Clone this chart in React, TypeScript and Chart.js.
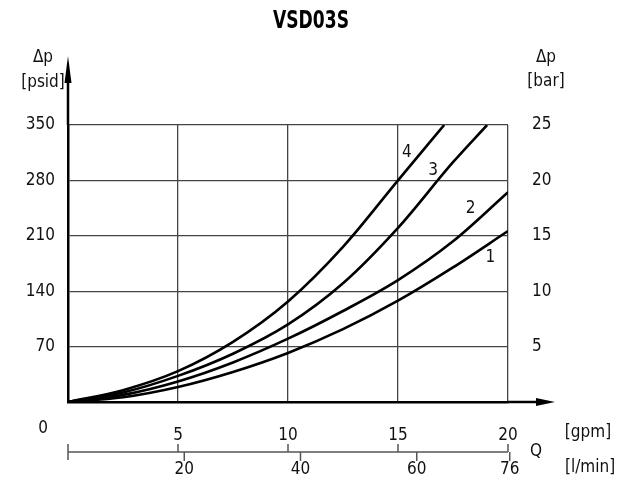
import React, { useEffect, useRef } from "react";
import { Chart, registerables } from "chart.js";
Chart.register(...registerables);

const TITLE = "VSD03S";
const GPM_TICKS = [5, 10, 15, 20];
const LMIN_TICKS = [20, 40, 60, 76];
const PSID_TICKS = [70, 140, 210, 280, 350];
const BAR_TICKS = [5, 10, 15, 20, 25];

const c1x = [0, 2.5, 5, 7.5, 10, 12.5, 15, 17.5, 20];
const c1y = [0, 6, 19, 38, 62, 92, 128, 170, 216];
const c2x = [0, 2.5, 5, 7.5, 10, 12.5, 15, 17.5, 20];
const c2y = [0, 9, 26, 50, 80, 115, 154, 203, 265];
const c3x = [0, 2.5, 5, 7.5, 10, 12.5, 15, 17.5, 19.05];
const c3y = [0, 12, 33, 61, 98, 150, 220, 303, 350];
const c4x = [0, 2.5, 5, 7.5, 10, 12.5, 15, 17.1];
const c4y = [0, 15, 39, 76, 127, 196, 280, 350];

const CURVE_NAMES = ["1", "2", "3", "4"];
const LABEL_X = [19.2, 18.3, 16.6, 15.4];
const LABEL_Y = [183, 245, 292, 315];

const FONT = '"DejaVu Sans Condensed", "DejaVu Sans", sans-serif';

function pts(xs: number[], ys: number[]) {
  return xs.map((x, i) => ({ x, y: ys[i] }));
}

const overlay = {
  id: "overlay",
  afterDraw(chart: any) {
    const ctx = chart.ctx as CanvasRenderingContext2D;
    const xs = chart.scales.x;
    const ys = chart.scales.y;
    const yb = chart.scales.ybar;
    const xl = chart.scales.xl;
    const area = chart.chartArea;
    const x0 = xs.getPixelForValue(0);
    const y0 = ys.getPixelForValue(0);
    ctx.save();
    ctx.fillStyle = "#000";
    ctx.strokeStyle = "#000";
    // y axis arrow
    ctx.lineWidth = 2.5;
    ctx.beginPath();
    ctx.moveTo(x0, area.top);
    ctx.lineTo(x0, area.top - 46);
    ctx.stroke();
    ctx.beginPath();
    ctx.moveTo(x0, area.top - 69);
    ctx.lineTo(x0 - 3.5, area.top - 42);
    ctx.lineTo(x0 + 3.5, area.top - 42);
    ctx.closePath();
    ctx.fill();
    // x axis arrow
    ctx.beginPath();
    ctx.moveTo(area.right, y0);
    ctx.lineTo(area.right + 32, y0);
    ctx.stroke();
    ctx.beginPath();
    ctx.moveTo(area.right + 47, y0);
    ctx.lineTo(area.right + 28, y0 - 4);
    ctx.lineTo(area.right + 28, y0 + 4);
    ctx.closePath();
    ctx.fill();

    // title
    ctx.font = 'bold 25px "Liberation Sans Narrow", "DejaVu Sans Condensed", sans-serif';
    ctx.textAlign = "center";
    ctx.textBaseline = "middle";
    const tw = ctx.measureText(TITLE).width;
    const sx = Math.min(1, 76 / tw);
    ctx.save();
    ctx.translate(311, 21);
    ctx.scale(sx, 1);
    ctx.fillText(TITLE, 0, 0);
    ctx.restore();

    ctx.font = "17px " + FONT;
    ctx.fillStyle = "#111";
    // left ticks
    ctx.textAlign = "right";
    for (const v of PSID_TICKS) ctx.fillText(String(v), x0 - 13, ys.getPixelForValue(v));
    // right ticks
    ctx.textAlign = "left";
    for (const v of BAR_TICKS) ctx.fillText(String(v), area.right + 24, yb.getPixelForValue(v));
    // units
    ctx.textAlign = "center";
    ctx.fillText("\u0394p", x0 - 25, 58);
    ctx.fillText("[psid]", x0 - 25, 83);
    ctx.fillText("\u0394p", area.right + 38, 58);
    ctx.fillText("[bar]", area.right + 38, 82);
    ctx.fillText("0", x0 - 25, y0 + 27);
    for (const v of GPM_TICKS) ctx.fillText(String(v), xs.getPixelForValue(v), y0 + 34);
    for (const v of LMIN_TICKS) ctx.fillText(String(v), xl.getPixelForValue(v), y0 + 68);
    ctx.fillText("[gpm]", area.right + 80, y0 + 31);
    ctx.fillText("Q", area.right + 28, y0 + 50);
    ctx.fillText("[l/min]", area.right + 82, y0 + 66);

    // curve labels
    for (let i = 0; i < CURVE_NAMES.length; i++) {
      ctx.fillText(CURVE_NAMES[i], xs.getPixelForValue(LABEL_X[i]), ys.getPixelForValue(LABEL_Y[i]));
    }

    // lower double axis
    const ly = y0 + 50;
    ctx.strokeStyle = "#555";
    ctx.lineWidth = 1.5;
    ctx.beginPath();
    ctx.moveTo(x0, ly);
    ctx.lineTo(xs.getPixelForValue(20), ly);
    ctx.moveTo(x0, ly - 8);
    ctx.lineTo(x0, ly + 8);
    for (const v of GPM_TICKS) {
      const px = xs.getPixelForValue(v);
      ctx.moveTo(px, ly - 8);
      ctx.lineTo(px, ly);
    }
    for (const v of LMIN_TICKS) {
      const px = xl.getPixelForValue(v);
      ctx.moveTo(px, ly);
      ctx.lineTo(px, ly + 9);
    }
    ctx.stroke();
    ctx.restore();
  },
};

export default function App() {
  const ref = useRef<HTMLCanvasElement>(null);
  useEffect(() => {
    if (!ref.current) return;
    const mk = (xs: number[], ys: number[]) => ({
      data: pts(xs, ys),
      borderColor: "#000",
      borderWidth: 2.6,
      pointRadius: 0,
      fill: false,
      cubicInterpolationMode: "monotone" as const,
    });
    const chart = new Chart(ref.current, {
      type: "line",
      data: {
        datasets: [mk(c1x, c1y), mk(c2x, c2y), mk(c3x, c3y), mk(c4x, c4y)],
      },
      plugins: [overlay],
      options: {
        responsive: false,
        animation: false,
        layout: { padding: { left: 68, top: 125, right: 111, bottom: 82 } },
        plugins: { legend: { display: false }, tooltip: { enabled: false }, title: { display: false } },
        scales: {
          x: {
            type: "linear",
            min: 0,
            max: 20,
            ticks: { display: false, stepSize: 5 },
            grid: { drawTicks: false, color: "#444", lineWidth: 1.3 },
            border: { display: true, color: "#000", width: 2.5 },
          },
          xl: {
            type: "linear",
            min: 0,
            max: 20 * 3.785,
            display: false,
          },
          y: {
            type: "linear",
            min: 0,
            max: 350,
            ticks: { display: false, stepSize: 70 },
            grid: { drawTicks: false, color: "#444", lineWidth: 1.3 },
            border: { display: true, color: "#000", width: 2.5 },
          },
          ybar: {
            type: "linear",
            position: "right",
            min: 0,
            max: 25,
            display: false,
          },
        },
      },
    });
    return () => chart.destroy();
  }, []);
  return (
    <div style={{ position: "absolute", left: 0, top: 0, width: 619, height: 484, background: "#fff" }}>
      <canvas ref={ref} width={619} height={484} style={{ width: 619, height: 484 }} />
    </div>
  );
}
